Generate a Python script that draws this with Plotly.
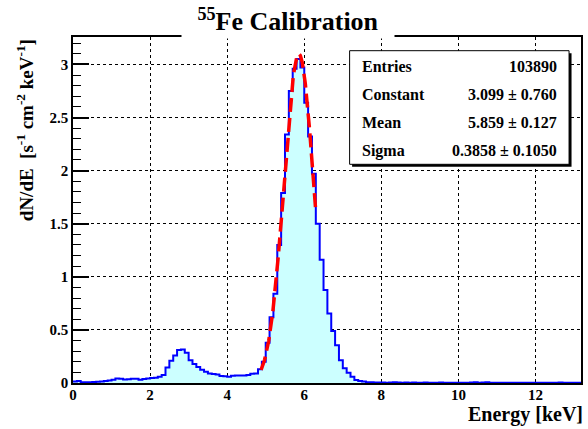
import numpy as np
import plotly.graph_objects as go

# ---- data ----
bin_width = 0.1
counts = [
    0.015, 0.020, 0.008, 0.006, 0.006, 0.010, 0.012, 0.015, 0.020, 0.024,
    0.030, 0.042, 0.040, 0.034, 0.036, 0.040, 0.040, 0.031, 0.038, 0.042,
    0.047, 0.050, 0.060, 0.075, 0.145, 0.210, 0.260, 0.310, 0.315, 0.285,
    0.215, 0.180, 0.150, 0.125, 0.105, 0.090, 0.085, 0.080, 0.065, 0.063,
    0.060, 0.068, 0.070, 0.070, 0.070, 0.075, 0.088, 0.090, 0.130, 0.200,
    0.380, 0.620, 0.840, 1.300, 1.790, 2.340, 2.750, 2.960, 3.050, 2.970,
    2.640, 2.320, 1.970, 1.500, 1.160, 0.875, 0.655, 0.490, 0.356, 0.214,
    0.140, 0.096, 0.060, 0.028, 0.018, 0.015, 0.008, 0.006,
    0.005, 0.004, 0.004, 0.003, 0.005, 0.006, 0.004, 0.003, 0.004, 0.003,
    0.004, 0.003, 0.003, 0.004, 0.003, 0.002, 0.003, 0.004, 0.003, 0.003,
    0.002, 0.003, 0.003, 0.002, 0.003, 0.004, 0.006, 0.003, 0.005, 0.006,
    0.003, 0.002, 0.003, 0.002, 0.003, 0.002, 0.002, 0.003, 0.002, 0.002,
    0.003, 0.002, 0.002, 0.003, 0.002, 0.003, 0.002, 0.002, 0.004, 0.003,
    0.002, 0.002, 0.002, 0.002,
]
entries = "103890"
fit_constant, fit_constant_err = 3.099, 0.760
fit_mean, fit_mean_err = 5.859, 0.127
fit_sigma, fit_sigma_err = 0.3858, 0.1050
fit_range = (4.88, 6.30)
x_tick_vals = [0, 2, 4, 6, 8, 10, 12]

# ---- geometry helpers ----
W, H = 588, 429
ML, MR, MT, MB = 73, 5, 37, 46
PW, PH = W - ML - MR, H - MT - MB


def px(xp):
    return (xp - ML) / PW


def py(yp):
    return (H - MB - yp) / PH


edges = [round(i * bin_width, 4) for i in range(len(counts) + 1)]
ys = counts + [counts[-1]]

FONT = "Liberation Serif"

fig = go.Figure()
fig.add_trace(go.Scatter(
    x=edges, y=ys, mode="lines", line=dict(color="#0000ff", width=2, shape="hv"),
    fill="tozeroy", fillcolor="#ccffff", hoverinfo="skip", showlegend=False))

fx = np.linspace(fit_range[0], fit_range[1], 200)
fy = fit_constant * np.exp(-0.5 * ((fx - fit_mean) / fit_sigma) ** 2)
fig.add_trace(go.Scatter(
    x=fx, y=fy, mode="lines", line=dict(color="#ff0000", width=3.5, dash="14px,6px"),
    hoverinfo="skip", showlegend=False))

fig.update_layout(
    width=W, height=H, margin=dict(l=ML, r=MR, t=MT, b=MB),
    paper_bgcolor="white", plot_bgcolor="white",
    font=dict(family=FONT, color="black"),
)
fig.update_xaxes(
    range=[0, 13.18], tickvals=x_tick_vals, ticks="", showgrid=True,
    gridcolor="black", griddash="dot", gridwidth=1, zeroline=False,
    showline=True, linecolor="black", linewidth=1.5, mirror=True,
    tickfont=dict(family=FONT, size=15, weight="bold"), ticklabelstandoff=-3,
)
fig.update_yaxes(
    range=[0, 3.258], dtick=0.5, tick0=0, ticks="inside", ticklen=16, tickwidth=1.5,
    tickcolor="black", showgrid=True, gridcolor="black", griddash="dot", gridwidth=1,
    zeroline=False, showline=True, linecolor="black", linewidth=1.5, mirror=True,
    tickfont=dict(family=FONT, size=15, weight="bold"),
    minor=dict(ticks="inside", ticklen=8, tickwidth=1, tickcolor="black", dtick=0.1, showgrid=False),
)

# stats box with shadow
bx0, bx1, by0, by1 = 350.7, 571.0, 50.7, 164.3
fig.add_shape(type="rect", xref="paper", yref="paper",
              x0=px(bx0 + 2.5), x1=px(bx1 + 2.5), y0=py(by0 + 2.5), y1=py(by1 + 2.5),
              fillcolor="black", line=dict(width=0))
fig.add_shape(type="rect", xref="paper", yref="paper",
              x0=px(bx0), x1=px(bx1), y0=py(by0), y1=py(by1),
              fillcolor="white", line=dict(color="black", width=1))

rows = [
    ("Entries", entries, 66.7),
    ("Constant", f"{fit_constant:.3f} \u00b1 {fit_constant_err:.3f}", 94.5),
    ("Mean", f"{fit_mean:.3f} \u00b1 {fit_mean_err:.3f}", 122.7),
    ("Sigma", f"{fit_sigma:.4f} \u00b1 {fit_sigma_err:.4f}", 150.7),
]
for lab, val, yy in rows:
    fig.add_annotation(xref="paper", yref="paper", x=px(361), y=py(yy), text=lab,
                       showarrow=False, xanchor="left", yanchor="middle",
                       font=dict(family=FONT, size=16, weight="bold", color="black"))
    fig.add_annotation(xref="paper", yref="paper", x=px(561), y=py(yy), text=val,
                       showarrow=False, xanchor="right", yanchor="middle",
                       font=dict(family=FONT, size=16, weight="bold", color="black"))

# title with white box covering top frame
fig.add_annotation(xref="paper", yref="paper", x=px(289), y=py(39), text="<sup>55</sup>Fe Calibration",
                   showarrow=False, xanchor="center", yanchor="bottom", width=212, height=36,
                   bgcolor="white", borderpad=0, valign="middle",
                   font=dict(family=FONT, size=26, weight="bold", color="black"))

# axis titles
fig.add_annotation(xref="paper", yref="paper", x=px(587), y=py(414), text="Energy [keV]",
                   showarrow=False, xanchor="right", yanchor="middle",
                   font=dict(family=FONT, size=20, weight="bold", color="black"))
fig.add_annotation(xref="paper", yref="paper", x=px(25), y=py(37), textangle=-90,
                   text="dN/dE  [s<sup>-1</sup> cm<sup>-2</sup> keV<sup>-1</sup>]",
                   showarrow=False, xanchor="center", yanchor="top",
                   font=dict(family=FONT, size=19, weight="bold", color="black"))

fig.write_html("out.html")
